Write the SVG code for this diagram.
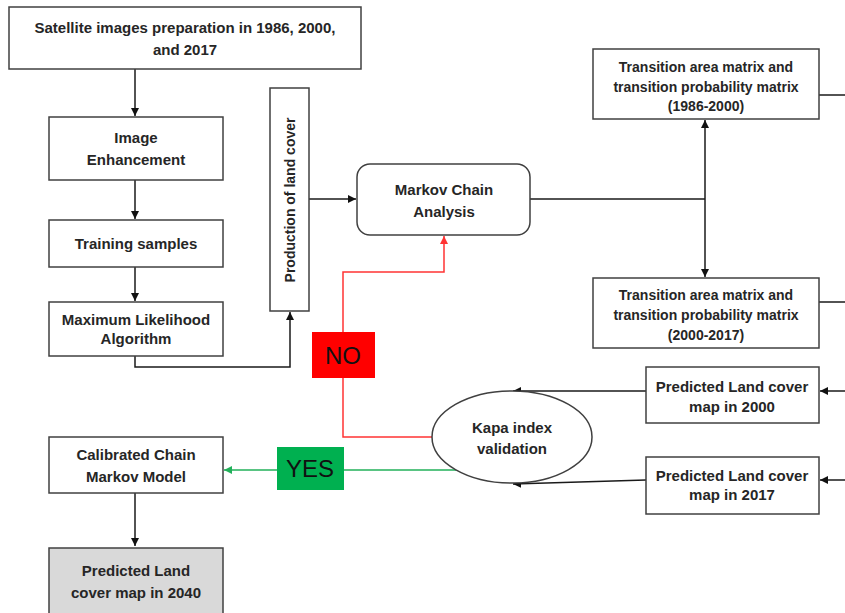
<svg xmlns="http://www.w3.org/2000/svg" width="845" height="613" viewBox="0 0 845 613">
<defs>
<style>
.box{fill:#fff;stroke:#404040;stroke-width:1.5}
.t{font-family:"Liberation Sans",Arial,sans-serif;font-weight:bold;font-size:15px;fill:#262626;text-anchor:middle}
.ts{font-size:14px}
.big{font-family:"Liberation Sans",Arial,sans-serif;font-size:24px;fill:#111;text-anchor:middle}
.c{fill:none;stroke:#1a1a1a;stroke-width:1.5}
.red{fill:none;stroke:#ff3333;stroke-width:1.5}
.green{fill:none;stroke:#22b05a;stroke-width:1.5}
</style>
<marker id="ah" viewBox="0 0 10 10" refX="10" refY="5" markerWidth="8" markerHeight="8" markerUnits="userSpaceOnUse" orient="auto"><path d="M0,0L10,5L0,10z" fill="#111"/></marker>
<marker id="ahr" viewBox="0 0 10 10" refX="10" refY="5" markerWidth="8" markerHeight="8" markerUnits="userSpaceOnUse" orient="auto"><path d="M0,0L10,5L0,10z" fill="#ff3333"/></marker>
<marker id="ahg" viewBox="0 0 10 10" refX="10" refY="5" markerWidth="8" markerHeight="8" markerUnits="userSpaceOnUse" orient="auto"><path d="M0,0L10,5L0,10z" fill="#22b05a"/></marker>
</defs>
<rect width="845" height="613" fill="#fff"/>

<g id="connectors">
<path class="c" d="M135,69V116" marker-end="url(#ah)"/>
<path class="c" d="M135,180V219" marker-end="url(#ah)"/>
<path class="c" d="M135,267V301" marker-end="url(#ah)"/>
<path class="c" d="M135,356V367H290V312" marker-end="url(#ah)"/>
<path class="c" d="M309,199H356" marker-end="url(#ah)"/>
<path class="c" d="M530,199H705"/>
<path class="c" d="M705,199V120" marker-end="url(#ah)"/>
<path class="c" d="M705,199V277" marker-end="url(#ah)"/>
<path class="c" d="M819,95H845"/>
<path class="c" d="M819,302H845"/>
<path class="c" d="M845,391H820" marker-end="url(#ah)"/>
<path class="c" d="M845,480H820" marker-end="url(#ah)"/>
<path class="c" d="M646,391H513" marker-end="url(#ah)"/>
<path class="c" d="M646,480L513,484" marker-end="url(#ah)"/>
<path class="red" d="M432,437H343V272H444V236" marker-end="url(#ahr)"/>
<path class="green" d="M456,470H224" marker-end="url(#ahg)"/>
<path class="c" d="M135,493V546" marker-end="url(#ah)"/>
</g>

<g id="satellite">
<rect class="box" x="9" y="7" width="352" height="62"/>
<text class="t" x="185" y="33">Satellite images preparation in 1986, 2000,</text>
<text class="t" x="185" y="55">and 2017</text>
</g>
<g id="enhancement">
<rect class="box" x="49" y="117" width="174" height="63"/>
<text class="t" x="136" y="143">Image</text>
<text class="t" x="136" y="165">Enhancement</text>
</g>
<g id="training">
<rect class="box" x="49" y="220" width="174" height="47"/>
<text class="t" x="136" y="249">Training samples</text>
</g>
<g id="maxlik">
<rect class="box" x="49" y="302" width="174" height="54"/>
<text class="t" x="136" y="325">Maximum Likelihood</text>
<text class="t" x="136" y="344">Algorithm</text>
</g>
<g id="production">
<rect class="box" x="270" y="88" width="39" height="223"/>
<text class="t ts" transform="translate(295,200) rotate(-90)">Production of land cover</text>
</g>
<g id="markov">
<rect class="box" x="357" y="164" width="173" height="71" rx="13"/>
<text class="t" x="444" y="195">Markov Chain</text>
<text class="t" x="444" y="217">Analysis</text>
</g>
<g id="tm1">
<rect class="box" x="593" y="49" width="226" height="70"/>
<text class="t ts" x="706" y="72">Transition area matrix and</text>
<text class="t ts" x="706" y="92">transition probability matrix</text>
<text class="t ts" x="706" y="111">(1986-2000)</text>
</g>
<g id="tm2">
<rect class="box" x="593" y="278" width="226" height="70"/>
<text class="t ts" x="706" y="300">Transition area matrix and</text>
<text class="t ts" x="706" y="320">transition probability matrix</text>
<text class="t ts" x="706" y="340">(2000-2017)</text>
</g>
<g id="pred2000">
<rect class="box" x="646" y="367" width="173" height="56"/>
<text class="t" x="732" y="392">Predicted Land cover</text>
<text class="t" x="732" y="412">map in 2000</text>
</g>
<g id="pred2017">
<rect class="box" x="646" y="457" width="173" height="57"/>
<text class="t" x="732" y="481">Predicted Land cover</text>
<text class="t" x="732" y="500">map in 2017</text>
</g>
<g id="kapa">
<ellipse cx="512" cy="437" rx="80" ry="46" fill="#fff" stroke="#404040" stroke-width="1.5"/>
<text class="t" x="512" y="433">Kapa index</text>
<text class="t" x="512" y="454">validation</text>
</g>
<g id="no">
<rect x="312" y="332" width="63" height="46" fill="#ff0000"/>
<text class="big" x="343" y="364">NO</text>
</g>
<g id="yes">
<rect x="277" y="447" width="67" height="43" fill="#00b050"/>
<text class="big" x="310" y="477">YES</text>
</g>
<g id="calibrated">
<rect class="box" x="49" y="437" width="174" height="56"/>
<text class="t" x="136" y="460">Calibrated Chain</text>
<text class="t" x="136" y="482">Markov Model</text>
</g>
<g id="pred2040">
<rect x="49" y="548" width="174" height="70" fill="#d9d9d9" stroke="#404040" stroke-width="1.5"/>
<text class="t" x="136" y="576">Predicted Land</text>
<text class="t" x="136" y="598">cover map in 2040</text>
</g>
</svg>
